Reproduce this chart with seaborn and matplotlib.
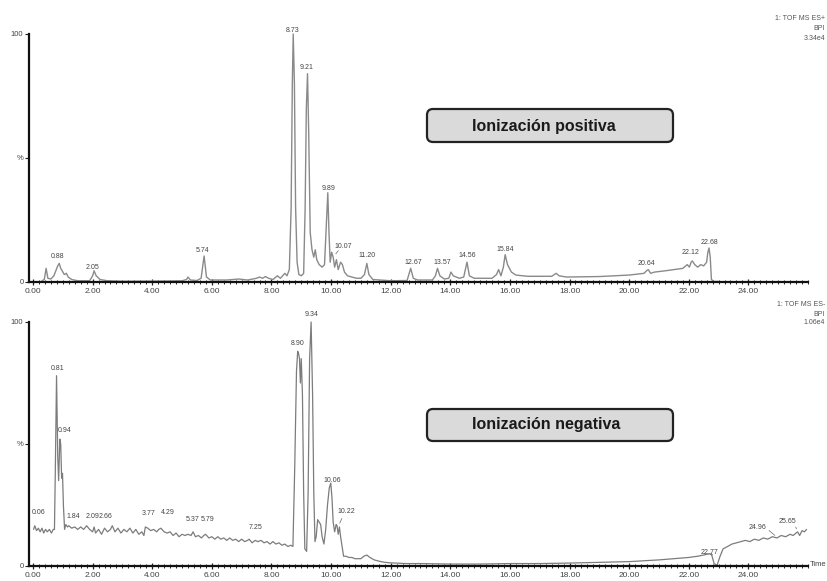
import matplotlib
matplotlib.use("Agg")
import matplotlib.pyplot as plt
from matplotlib.patches import FancyBboxPatch
from matplotlib.ticker import MultipleLocator, FixedLocator, FixedFormatter
import seaborn as sns
import pandas as pd

sns.set_style("ticks")
plt.rcParams['font.family'] = ['Liberation Sans', 'DejaVu Sans']

# ---------------- data: positive ionization trace (time min, % intensity)
pos_time = [0.30, 0.38, 0.44, 0.50, 0.60, 0.70, 0.78, 0.83, 0.88, 0.93, 0.98, 1.05, 1.12, 1.18, 1.30, 1.50,
            1.90, 2.00, 2.05, 2.12, 2.25, 2.50, 3.00, 4.50, 5.00, 5.15, 5.20, 5.28, 5.50, 5.64, 5.74, 5.82,
            5.95, 6.50, 6.90, 7.20, 7.50, 7.60, 7.70, 7.80, 7.90, 8.05, 8.20, 8.30, 8.45, 8.52, 8.60, 8.66,
            8.70, 8.73, 8.77, 8.81, 8.86, 8.92, 9.00, 9.08, 9.13, 9.17, 9.21, 9.25, 9.30, 9.36, 9.42, 9.47,
            9.52, 9.60, 9.70, 9.78, 9.83, 9.89, 9.93, 9.97, 10.02, 10.07, 10.12, 10.18, 10.24, 10.32, 10.38,
            10.45, 10.55, 10.70, 10.85, 11.00, 11.12, 11.20, 11.27, 11.40, 12.00, 12.55, 12.67, 12.76, 12.90,
            13.40, 13.50, 13.57, 13.65, 13.80, 13.95, 14.02, 14.10, 14.30, 14.45, 14.56, 14.64, 14.80, 15.40,
            15.55, 15.62, 15.70, 15.78, 15.84, 15.92, 16.05, 16.20, 16.60, 17.40, 17.55, 17.65, 17.90, 19.00,
            20.00, 20.50, 20.58, 20.64, 20.72, 20.85, 21.20, 21.50, 21.80, 21.95, 22.02, 22.08, 22.12, 22.20,
            22.30, 22.40, 22.50, 22.60, 22.64, 22.68, 22.72, 22.76, 22.85, 23.00]
pos_int = [0.5, 1.0, 5.5, 1.5, 1.2, 2.5, 5.0, 6.5, 7.5, 5.5, 4.5, 3.0, 3.5, 2.0, 1.0, 0.5,
           0.5, 2.5, 4.5, 2.5, 1.0, 0.5, 0.3, 0.4, 0.5, 1.0, 2.0, 0.8, 0.6, 1.5, 10.5, 2.0,
           0.8, 0.8, 1.2, 0.8, 1.5, 2.0, 1.5, 2.2, 1.5, 1.0, 2.5, 1.5, 3.5, 2.5, 5.0, 30.0,
           80.0, 100.0, 80.0, 30.0, 8.0, 3.0, 2.5, 3.5, 30.0, 70.0, 84.0, 60.0, 20.0, 13.0, 10.0, 13.0,
           9.0, 7.0, 6.0, 7.0, 20.0, 36.0, 20.0, 8.0, 12.0, 10.0, 6.0, 9.0, 5.0, 8.0, 7.0,
           4.0, 2.5, 2.0, 1.5, 1.5, 3.0, 7.5, 3.0, 1.0, 0.5, 0.6, 5.5, 1.5, 0.8,
           0.8, 2.5, 5.5, 2.5, 1.2, 1.5, 4.0, 2.5, 1.5, 2.0, 8.0, 2.5, 1.5, 1.5,
           3.0, 5.0, 2.5, 6.0, 11.0, 7.0, 4.0, 2.8, 2.3, 2.3, 3.5, 2.5, 2.0, 2.2,
           2.8, 3.5, 4.5, 5.0, 3.5, 4.0, 4.5, 5.0, 5.5, 7.0, 6.0, 8.0, 8.5, 7.0,
           6.0, 7.0, 6.5, 8.0, 12.0, 13.7, 10.0, 1.0, 0.2, 0.2]

# ---------------- data: negative ionization trace
neg_time = [0.02, 0.06, 0.12, 0.18, 0.24, 0.30, 0.36, 0.42, 0.48, 0.55, 0.62, 0.68, 0.72, 0.75, 0.79, 0.83,
            0.86, 0.90, 0.93, 0.96, 0.99, 1.02, 1.06, 1.10, 1.16, 1.20, 1.30, 1.40, 1.50, 1.60, 1.70, 1.80,
            1.90, 2.00, 2.05, 2.10, 2.20, 2.30, 2.40, 2.50, 2.60, 2.66, 2.75, 2.85, 2.95, 3.05, 3.15, 3.25,
            3.35, 3.45, 3.55, 3.65, 3.72, 3.77, 3.85, 3.95, 4.05, 4.15, 4.22, 4.29, 4.40, 4.50, 4.60, 4.70,
            4.80, 4.90, 5.00, 5.10, 5.20, 5.30, 5.37, 5.45, 5.55, 5.65, 5.73, 5.79, 5.90, 6.00, 6.10, 6.20,
            6.30, 6.40, 6.50, 6.60, 6.70, 6.80, 6.90, 7.00, 7.10, 7.20, 7.25, 7.35, 7.45, 7.55, 7.65, 7.75,
            7.85, 7.95, 8.05, 8.15, 8.25, 8.35, 8.45, 8.55, 8.65, 8.72, 8.78, 8.84, 8.88, 8.91, 8.94, 8.97,
            9.00, 9.04, 9.08, 9.12, 9.18, 9.23, 9.28, 9.33, 9.38, 9.42, 9.46, 9.50, 9.55, 9.60, 9.65, 9.70,
            9.76, 9.82, 9.88, 9.94, 9.99, 10.03, 10.07, 10.12, 10.17, 10.20, 10.24, 10.28, 10.32, 10.37,
            10.42, 10.50, 10.60, 10.70, 10.80, 10.90, 11.00, 11.10, 11.20, 11.30, 11.45, 11.60, 11.80, 12.00,
            12.50, 13.00, 14.00, 15.00, 16.00, 17.00, 18.00, 19.00, 20.00, 21.00, 21.50, 22.00, 22.30, 22.70,
            22.77, 22.85, 22.95, 23.05, 23.15, 23.30, 23.45, 23.60, 23.75, 23.90, 24.05, 24.20, 24.35, 24.50,
            24.65, 24.80, 24.96, 25.10, 25.25, 25.40, 25.50, 25.65, 25.72, 25.80, 25.88, 25.95]
neg_int = [15.0, 16.5, 14.5, 15.5, 14.0, 15.5, 13.5, 15.0, 14.0, 15.0, 13.5, 15.0, 15.0, 40.0, 78.0, 45.0,
           35.0, 52.0, 50.0, 36.0, 38.0, 25.0, 15.0, 17.0, 16.0, 16.5, 15.5, 16.0, 15.0, 16.0, 15.0, 16.5,
           15.0, 14.0, 16.0, 13.5, 15.0, 13.0, 15.5, 14.0, 15.0, 16.5, 14.0, 15.5, 13.5, 15.0, 14.0, 15.5,
           13.5, 15.0, 13.0, 14.0, 12.5, 16.0, 15.5, 14.5, 15.0, 14.0, 15.0, 15.5, 14.0, 13.5, 14.0, 12.5,
           13.5, 12.0, 13.0, 12.5, 13.0, 12.5, 14.0, 12.0, 12.5, 11.5, 12.5, 13.0, 11.5, 12.0, 11.0, 12.0,
           11.0, 11.5, 10.5, 11.5, 10.5, 11.0, 10.0, 11.0, 10.0, 10.5, 11.0, 9.5, 10.5, 10.0, 10.5, 9.5,
           10.0, 9.0, 10.0, 9.0, 9.5, 8.5, 9.0, 8.0, 8.5, 8.0, 40.0, 80.0, 88.0, 87.0, 85.0, 75.0,
           85.0, 70.0, 30.0, 7.0, 6.0, 30.0, 85.0, 100.0, 70.0, 30.0, 10.0, 12.0, 19.0, 18.0, 17.0, 12.0,
           9.0, 15.0, 25.0, 32.0, 34.0, 28.0, 18.0, 14.0, 17.0, 16.5, 13.0, 16.0, 12.0, 8.0,
           4.0, 4.0, 3.5, 3.5, 3.0, 3.0, 3.0, 4.0, 4.5, 3.5, 2.5, 2.0, 1.5, 1.3,
           1.0, 1.0, 0.8, 0.8, 1.0, 1.0, 1.2, 1.5, 1.8, 2.5, 3.0, 3.5, 4.0, 5.0,
           4.5, 1.0, 0.3, 4.0, 7.0, 8.0, 9.0, 9.5, 10.0, 10.5, 10.0, 11.0, 10.5, 11.5,
           11.0, 12.0, 11.5, 12.5, 12.0, 13.0, 12.5, 14.0, 12.5, 14.5, 14.0, 15.0]

# ---------------- peak labels: (text, time, height %)
pos_labels = ["0.88", "2.05", "5.74", "8.73", "9.21", "9.89", "10.07", "11.20", "12.67", "13.57",
              "14.56", "15.84", "20.64", "22.12", "22.68"]
pos_lab_x = [0.81, 1.98, 5.70, 8.72, 9.19, 9.90, 10.40, 11.21, 12.75, 13.72, 14.56, 15.84, 20.57, 22.05, 22.68]
pos_lab_y = [10.1, 6.0, 12.5, 101.6, 86.3, 37.9, 14.5, 10.5, 7.7, 7.7, 10.5, 13.3, 7.3, 11.7, 16.1]

neg_labels = ["0.06", "0.81", "0.94", "1.84", "2.09", "2.66", "3.77", "4.29", "5.37", "5.79", "7.25",
              "8.90", "9.34", "10.06", "10.22", "22.77", "24.96", "25.65"]
neg_lab_x = [0.20, 0.81, 1.07, 1.34, 2.01, 2.42, 3.86, 4.53, 5.37, 5.87, 7.48, 8.89, 9.33, 10.03, 10.50,
             22.68, 24.30, 25.30]
neg_lab_y = [22.1, 81.1, 55.7, 20.1, 20.1, 20.1, 21.7, 22.1, 18.9, 18.9, 15.6, 91.0, 102.9, 35.2, 22.5,
             5.7, 15.6, 18.4]

x_ticks = [0, 2, 4, 6, 8, 10, 12, 14, 16, 18, 20, 22, 24]
x_tick_labels = ["0.00", "2.00", "4.00", "6.00", "8.00", "10.00", "12.00", "14.00", "16.00", "18.00",
                 "20.00", "22.00", "24.00"]
y_ticks = [0, 50, 100]
y_tick_labels = ["0", "%", "100"]

W, H = 828, 581
fig = plt.figure(figsize=(W / 100, H / 100), dpi=100)
fig.patch.set_facecolor("white")

def make_axes(y_zero_px, y_hundred_px):
    left = 29 / W
    width = (808 - 29) / W
    bottom = 1 - y_zero_px / H
    height = (y_zero_px - y_hundred_px) / H
    return fig.add_axes([left, bottom, width, height])

ax1 = make_axes(282, 34)
ax2 = make_axes(566, 322)

sns.lineplot(x=pos_time, y=pos_int, ax=ax1, color="#8a8a8a", linewidth=1.0, estimator=None, sort=False)
sns.lineplot(x=neg_time, y=neg_int, ax=ax2, color="#7c7c7c", linewidth=0.9, estimator=None, sort=False)

for ax in (ax1, ax2):
    ax.set_xlim(-0.134, 26.0)
    ax.set_ylim(0, 100)
    for ln in ax.lines:
        ln.set_clip_on(False)
    sns.despine(ax=ax, top=True, right=True)
    ax.spines["left"].set_linewidth(1.6)
    ax.spines["bottom"].set_linewidth(1.6)
    ax.spines["left"].set_color("#111111")
    ax.spines["bottom"].set_color("#111111")
    ax.xaxis.set_major_locator(FixedLocator(x_ticks))
    ax.xaxis.set_major_formatter(FixedFormatter(x_tick_labels))
    ax.xaxis.set_minor_locator(MultipleLocator(0.2))
    ax.yaxis.set_major_locator(FixedLocator(y_ticks))
    ax.yaxis.set_major_formatter(FixedFormatter(y_tick_labels))
    ax.tick_params(axis="x", which="major", direction="inout", length=5, width=0.9, labelsize=6,
                   colors="#222222", labelcolor="#444444", pad=2)
    ax.tick_params(axis="x", which="minor", direction="inout", length=3, width=0.7, colors="#222222")
    ax.tick_params(axis="y", which="major", direction="out", length=3, width=0.8, labelsize=5.5,
                   colors="#222222", labelcolor="#444444", pad=1)
    ax.set_xlabel("")
    ax.set_ylabel("")
    ax.patch.set_alpha(0)

for txt, x, y in zip(pos_labels, pos_lab_x, pos_lab_y):
    ax1.text(x, y, txt, fontsize=5, color="#444444", ha="center", va="center", clip_on=False)
for txt, x, y in zip(neg_labels, neg_lab_x, neg_lab_y):
    ax2.text(x, y, txt, fontsize=5, color="#444444", ha="center", va="center", clip_on=False)

# small leader lines
lead = dict(arrowstyle="-", color="#666666", lw=0.5)
ax1.annotate("", xy=(10.1, 10.5), xytext=(10.3, 13.5), arrowprops=lead)
ax2.annotate("", xy=(10.25, 16.5), xytext=(10.4, 20.5), arrowprops=lead)
ax2.annotate("", xy=(22.8, 4.6), xytext=(22.72, 5.0), arrowprops=lead)
ax2.annotate("", xy=(24.96, 11.8), xytext=(24.62, 15.3), arrowprops=lead)
ax2.annotate("", xy=(25.65, 14.2), xytext=(25.55, 17.0), arrowprops=lead)

# annotation boxes
for (x0, y_top, y_bot, label, tx, ty) in [(427, 109, 142, "Ionización positiva", 544, 126),
                                           (427, 409, 441, "Ionización negativa", 546, 425)]:
    box = FancyBboxPatch(((x0) / 100, (H - y_bot) / 100), 2.46, (y_bot - y_top) / 100,
                         boxstyle="round,pad=0,rounding_size=0.06",
                         transform=fig.dpi_scale_trans, facecolor="#dadada",
                         edgecolor="#222222", linewidth=1.6, zorder=5)
    fig.patches.append(box)
    fig.text(tx / W, 1 - ty / H, label, fontsize=11.5, fontweight="bold", color="#1a1a1a",
             ha="center", va="center", zorder=6)

# instrument header texts (right-aligned so they stay inside the picture)
hdr = dict(fontsize=5, color="#555555", ha="right", va="center")
fig.text(825 / W, 1 - 18 / H, "1: TOF MS ES+", **hdr)
fig.text(825 / W, 1 - 28 / H, "BPI", **hdr)
fig.text(825 / W, 1 - 38 / H, "3.34e4", **hdr)
fig.text(825 / W, 1 - 305 / H, "1: TOF MS ES-", **hdr)
fig.text(825 / W, 1 - 314 / H, "BPI", **hdr)
fig.text(825 / W, 1 - 323 / H, "1.06e4", **hdr)
fig.text(826 / W, 1 - 565 / H, "Time", fontsize=5.5, color="#444444", ha="right", va="center")

fig.savefig("out.png", dpi=100, facecolor="white")
